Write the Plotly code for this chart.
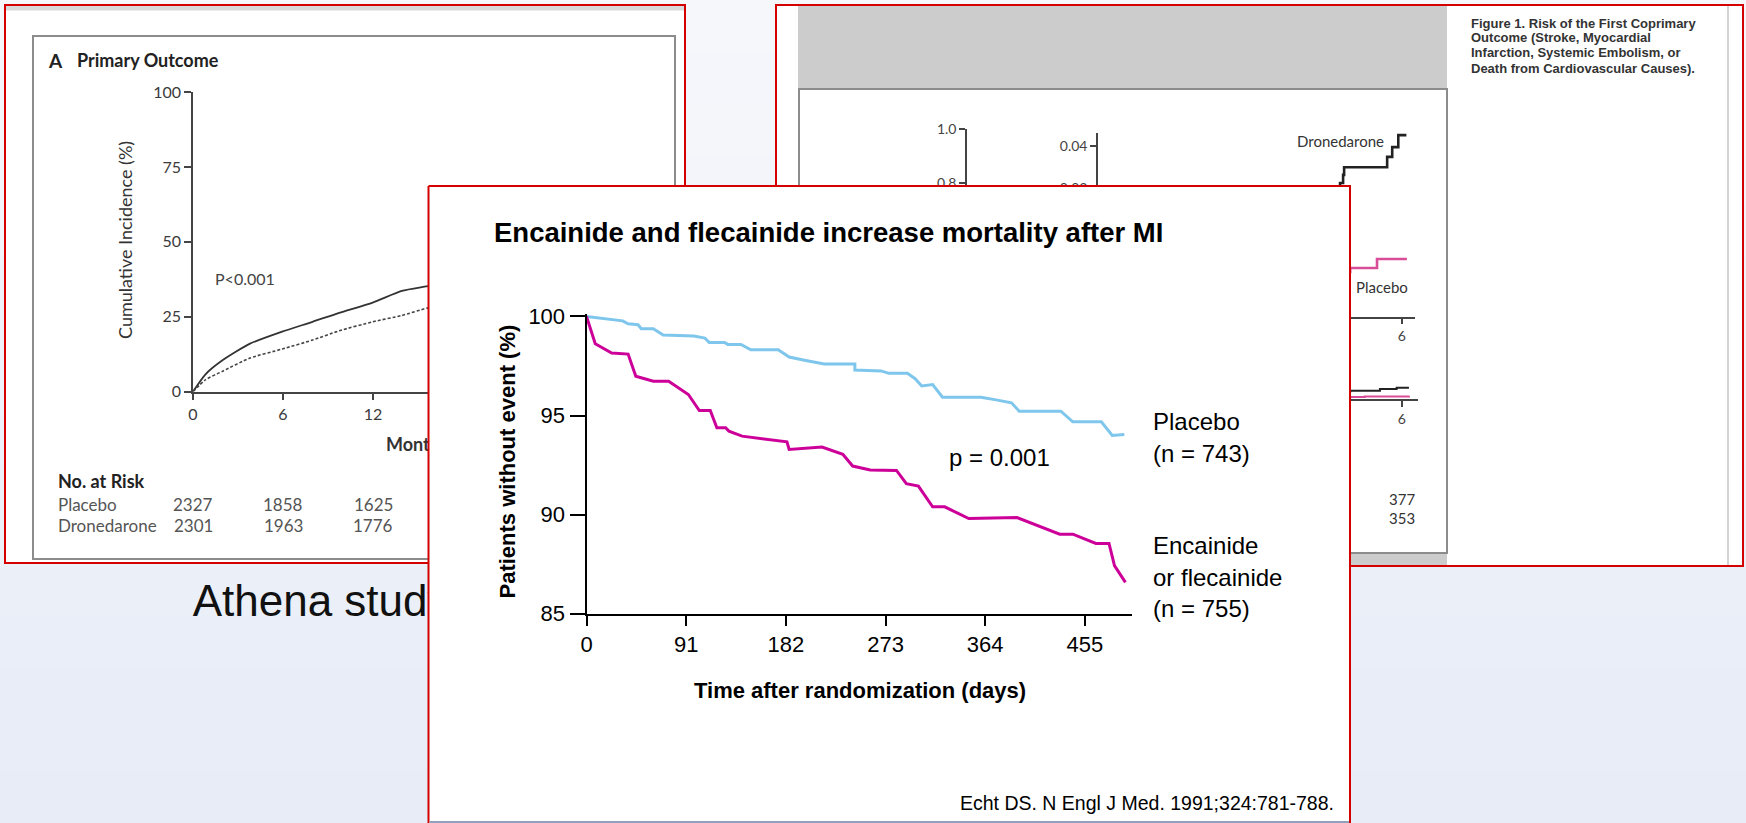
import plotly.graph_objects as go

W, H = 1746, 823

# ---------------- DATA ----------------
placebo_days = [0, 21, 33, 38, 47, 50, 61, 70, 98, 108, 112, 126, 129, 141, 150, 175, 185, 199, 217, 245,
                245, 269, 276, 293, 300, 306, 316, 325, 360, 374, 388, 395, 433, 444, 470, 480, 491]
placebo_pct = [100, 99.88, 99.78, 99.63, 99.58, 99.38, 99.38, 99.06, 99.01, 98.91, 98.69, 98.69, 98.59, 98.59,
               98.32, 98.32, 97.95, 97.79, 97.60, 97.60, 97.30, 97.25, 97.13, 97.13, 96.86, 96.49, 96.56, 95.92,
               95.92, 95.79, 95.64, 95.22, 95.22, 94.68, 94.68, 93.99, 94.04]
enc_days = [0, 8, 23, 38, 45, 61, 75, 87, 93, 103, 113, 119, 127, 130, 142, 183, 185, 215, 234, 243, 259, 283,
            292, 303, 316, 327, 349, 393, 432, 444, 465, 477, 482, 492]
enc_pct = [100, 98.62, 98.15, 98.10, 96.98, 96.73, 96.73, 96.26, 96.06, 95.25, 95.25, 94.38, 94.38, 94.21,
           93.96, 93.67, 93.29, 93.41, 93.04, 92.45, 92.25, 92.23, 91.56, 91.44, 90.39, 90.39, 89.80, 89.85,
           89.01, 89.01, 88.54, 88.54, 87.42, 86.58]
day_ticks = [0, 91, 182, 273, 364, 455]
pct_ticks = [85, 90, 95, 100]

months_left = [0, 0.82, 2.01, 3.8, 5.94, 7.97, 9.75, 11.98, 13.92, 15.56, 16.5]
placebo_left = [0, 5.7, 10.6, 16.0, 20.0, 23.3, 26.3, 29.7, 33.6, 35.1, 36.0]
dron_left = [0, 3.9, 6.9, 11.2, 14.2, 17.2, 20.3, 23.3, 25.4, 27.8, 28.6]
left_month_ticks = [0, 6, 12]
left_pct_ticks = [0, 25, 50, 75, 100]
risk_months = [0, 6, 12]
risk_placebo = [2327, 1858, 1625]
risk_dron = [2301, 1963, 1776]

inset_dron_m = [0, 2, 4.0, 4.68, 4.78, 4.84, 4.86, 5.71, 5.81, 5.93, 6.09]
inset_dron_v = [0, 0.015, 0.027, 0.0297, 0.0313, 0.0332, 0.0350, 0.0374, 0.0397, 0.0425, 0.0425]
inset_plac_m = [0, 2, 4.0, 4.98, 5.51, 6.10]
inset_plac_v = [0, 0.006, 0.0105, 0.0114, 0.0135, 0.0135]
main_dron_m = [0, 2, 4, 5.0, 5.29, 5.70, 5.93, 6.10]
main_dron_v = [0, 0.014, 0.024, 0.028, 0.0307, 0.037, 0.0419, 0.0419]
main_plac_m = [0, 2, 4, 5.0, 5.29, 5.49, 6.10]
main_plac_v = [0, 0.004, 0.005, 0.006, 0.0074, 0.0093, 0.0122]
right_main_yticks = [0.8, 1.0]
right_inset_yticks = [0.03, 0.04]
right_xticks = [6]
right_risk_m = 6
right_risk = [377, 353]

caption_lines = ["Figure 1. Risk of the First Coprimary",
                 "Outcome (Stroke, Myocardial",
                 "Infarction, Systemic Embolism, or",
                 "Death from Cardiovascular Causes)."]

# ---------------- STYLE ----------------
ARIAL = "Liberation Sans, Arial, sans-serif"
NEJM = "Lato, Open Sans, sans-serif"
RED = "#d40000"
BLUE = "#7fc6ec"
MAGENTA = "#cc0099"
PAGE_BG = "#eef1f8"


def dx(a, b):
    return [a / W, b / W]


def dy(top, bottom):
    return [1 - bottom / H, 1 - top / H]


def px(x):
    return x / W


def py(y):
    return 1 - y / H


def ann(text, x, y, size, family=ARIAL, color="black", xanchor="left", yanchor="middle",
        angle=0, xref="paper", xval=None):
    return dict(text=text, x=(xval if xval is not None else px(x)), y=py(y), xref=xref, yref="paper",
                showarrow=False, font=dict(size=size, family=family, color=color),
                xanchor=xanchor, yanchor=yanchor, textangle=angle)


fig = go.Figure()

fig.add_trace(go.Scatter(x=[192.7, 386], y=[605, 446], mode="text",
                         text=["Athena study", "<b>Months</b>"], textposition="middle right",
                         textfont=dict(size=[44, 18], family=[ARIAL, NEJM], color=["#111111", "#333333"]),
                         xaxis="x", yaxis="y", hoverinfo="skip", showlegend=False, cliponaxis=False))

fig.add_trace(go.Scatter(x=months_left, y=placebo_left, mode="lines", line=dict(color="#333333", width=1.8,
                         shape="spline", smoothing=0.6), xaxis="x2", yaxis="y2", showlegend=False))
fig.add_trace(go.Scatter(x=months_left, y=dron_left, mode="lines", line=dict(color="#444444", width=1.6,
                         dash="3px,2px", shape="spline", smoothing=0.6), xaxis="x2", yaxis="y2",
                         showlegend=False))

fig.add_trace(go.Scatter(x=main_dron_m, y=main_dron_v, mode="lines", line=dict(color="#222222", width=2, shape="hv"),
                         xaxis="x3", yaxis="y3", showlegend=False))
fig.add_trace(go.Scatter(x=main_plac_m, y=main_plac_v, mode="lines", line=dict(color="#d94c97", width=2, shape="hv"),
                         xaxis="x3", yaxis="y3", showlegend=False))
fig.add_trace(go.Scatter(x=inset_dron_m, y=inset_dron_v, mode="lines", line=dict(color="#222222", width=2.6, shape="hv"),
                         xaxis="x4", yaxis="y4", showlegend=False))
fig.add_trace(go.Scatter(x=inset_plac_m, y=inset_plac_v, mode="lines", line=dict(color="#d94c97", width=2.6, shape="hv"),
                         xaxis="x4", yaxis="y4", showlegend=False))

fig.add_trace(go.Scatter(x=[428.5, 1350, 1350, 428.5, 428.5], y=[186, 186, 840, 840, 186], mode="lines",
                         fill="toself", fillcolor="white", line=dict(color=RED, width=2),
                         xaxis="x5", yaxis="y5", hoverinfo="skip", showlegend=False))
fig.add_trace(go.Scatter(x=[429.5, 1349], y=[822, 822], mode="lines", line=dict(color="#8fa2bd", width=2),
                         xaxis="x5", yaxis="y5", hoverinfo="skip", showlegend=False))

fig.add_trace(go.Scatter(x=placebo_days, y=placebo_pct, mode="lines", line=dict(color=BLUE, width=3),
                         xaxis="x6", yaxis="y6", name="Placebo", showlegend=False))
fig.add_trace(go.Scatter(x=enc_days, y=enc_pct, mode="lines", line=dict(color=MAGENTA, width=3),
                         xaxis="x6", yaxis="y6", name="Encainide or flecainide", showlegend=False))

hidden = dict(visible=False, fixedrange=True)
lay = dict(
    width=W, height=H, autosize=False, margin=dict(l=0, r=0, t=0, b=0, pad=0, autoexpand=False),
    paper_bgcolor=PAGE_BG, plot_bgcolor="rgba(0,0,0,0)", showlegend=False,
    xaxis=dict(domain=[0, 1], range=[0, W], anchor="y", **hidden),
    yaxis=dict(domain=[0, 1], range=[H, 0], anchor="x", **hidden),
    xaxis5=dict(domain=[0, 1], range=[0, W], anchor="y5", **hidden),
    yaxis5=dict(domain=[0, 1], range=[H, 0], anchor="x5", **hidden),
)

nejm_tick = dict(family=NEJM, size=16, color="#3a3a3a")
lay["xaxis2"] = dict(domain=dx(193, 428.5), range=[0, 15.7], anchor="y2", showline=True, linecolor="#444",
                     linewidth=1.5, ticks="outside", ticklen=7, tickwidth=1.5, tickcolor="#444",
                     tickvals=left_month_ticks, tickfont=nejm_tick, showgrid=False, zeroline=False, fixedrange=True)
lay["yaxis2"] = dict(domain=dy(92, 391.6), range=[0, 100], anchor="x2", showline=True, linecolor="#444",
                     linewidth=1.5, ticks="outside", ticklen=7, tickwidth=1.5, tickcolor="#444",
                     tickvals=left_pct_ticks, tickfont=nejm_tick, showgrid=False, zeroline=False, fixedrange=True)

r_tick = dict(family=NEJM, size=14, color="#444444")
lay["xaxis3"] = dict(domain=dx(967, 1418), range=[0, 6.225], anchor="y3", showline=True, linecolor="#444",
                     linewidth=1.5, ticks="outside", ticklen=6, tickwidth=1.5, tickcolor="#444",
                     tickvals=right_xticks, tickfont=r_tick, showgrid=False, zeroline=False, fixedrange=True)
lay["yaxis3"] = dict(domain=dy(129, 399), range=[0, 1], anchor="x3", showline=True, linecolor="#444",
                     linewidth=1.5, ticks="outside", ticklen=6, tickwidth=1.5, tickcolor="#444",
                     tickvals=right_main_yticks, tickformat=".1f", tickfont=r_tick,
                     showgrid=False, zeroline=False, fixedrange=True)
lay["xaxis4"] = dict(domain=dx(1098, 1415), range=[0, 6.26], anchor="y4", showline=True, linecolor="#444",
                     linewidth=1.5, ticks="outside", ticklen=6, tickwidth=1.5, tickcolor="#444",
                     tickvals=right_xticks, tickfont=r_tick, showgrid=False, zeroline=False, fixedrange=True)
lay["yaxis4"] = dict(domain=dy(133, 316.7), range=[0, 0.043], anchor="x4", showline=True, linecolor="#444",
                     linewidth=1.5, ticks="outside", ticklen=6, tickwidth=1.5, tickcolor="#444",
                     tickvals=right_inset_yticks, tickformat=".2f", tickfont=r_tick,
                     showgrid=False, zeroline=False, fixedrange=True)

main_tick = dict(family=ARIAL, size=22, color="black")
lay["xaxis6"] = dict(domain=dx(586.5, 1132), range=[0, 498], anchor="y6", showline=True, linecolor="black",
                     linewidth=2, ticks="outside", ticklen=10, tickwidth=2, tickcolor="black",
                     tickvals=day_ticks, tickfont=main_tick, showgrid=False, zeroline=False, fixedrange=True)
lay["yaxis6"] = dict(domain=dy(313.5, 613.6), range=[85, 100.15], anchor="x6", showline=True, linecolor="black",
                     linewidth=2, ticks="outside", ticklen=15, tickwidth=2, tickcolor="black",
                     tickvals=pct_ticks, tickfont=main_tick, showgrid=False, zeroline=False, fixedrange=True)

shapes = []
top_c = (246, 247, 251)
bot_c = (231, 236, 247)
nb = 16
for i in range(nb):
    t = i / (nb - 1)
    c = tuple(round(top_c[k] + (bot_c[k] - top_c[k]) * t) for k in range(3))
    shapes.append(dict(type="rect", xref="paper", yref="paper", x0=0, x1=1, y0=py((i + 1) * H / nb + 1),
                       y1=py(i * H / nb), fillcolor="rgb(%d,%d,%d)" % c, line=dict(width=0), layer="below"))


def rect(x0, y0, x1, y1, fill=None, line_color=None, lw=0):
    return dict(type="rect", xref="paper", yref="paper", x0=px(x0), x1=px(x1), y0=py(y1), y1=py(y0),
                fillcolor=fill if fill else "rgba(0,0,0,0)",
                line=dict(color=line_color if line_color else "rgba(0,0,0,0)", width=lw), layer="below")


shapes.append(rect(5, 5, 685, 563, fill="white"))
shapes.append(rect(6, 6, 684, 10.5, fill="#d9d9d9"))
shapes.append(rect(33, 36, 675, 559, line_color="#8c8c8c", lw=2))
shapes.append(rect(5, 5, 685, 563, line_color=RED, lw=2))
shapes.append(rect(776, 5, 1743, 566, fill="white"))
shapes.append(rect(798, 6, 1447, 89, fill="#cccccc"))
shapes.append(rect(798, 553, 1447, 565, fill="#cccccc"))
shapes.append(rect(799, 89, 1447, 553, line_color="#8c8c8c", lw=2))
shapes.append(dict(type="line", xref="paper", yref="paper", x0=px(1728), x1=px(1728), y0=py(565), y1=py(6),
                   line=dict(color="#c4c4c4", width=1.5), layer="below"))
shapes.append(rect(776, 5, 1743, 566, line_color=RED, lw=2))
lay["shapes"] = shapes

annotations = []
annotations.append(ann("<b>Encainide and flecainide increase mortality after MI</b>", 492, 232, 27.5))
annotations.append(ann("p = 0.001", 947, 457, 24))
annotations.append(ann("Placebo", 1151, 421, 24))
annotations.append(ann("(n = 743)", 1151, 453, 24))
annotations.append(ann("Encainide", 1151, 545, 24))
annotations.append(ann("or flecainide", 1151, 577, 24))
annotations.append(ann("(n = 755)", 1151, 608, 24))
annotations.append(ann("<b>Patients without event (%)</b>", 506.5, 462, 22, xanchor="center", angle=-90))
annotations.append(ann("<b>Time after randomization (days)</b>", 860, 690, 22, xanchor="center"))
annotations.append(ann("Echt DS. N Engl J Med. 1991;324:781-788.", 1336, 803, 19.5, xanchor="right"))

annotations.append(ann("<b>A</b>", 46, 60, 19, family=NEJM, color="#222"))
annotations.append(ann("<b>Primary Outcome</b>", 75, 60, 18, family=NEJM, color="#222"))
annotations.append(ann("Cumulative Incidence (%)", 125, 240, 18, family=NEJM, color="#333",
                       xanchor="center", angle=-90))
annotations.append(ann("P&lt;0.001", 213, 278, 16, family=NEJM, color="#444"))
annotations.append(ann("<b>No. at Risk</b>", 56, 481, 18, family=NEJM, color="#222"))
annotations.append(ann("Placebo", 56, 504, 17, family=NEJM, color="#555"))
annotations.append(ann("Dronedarone", 56, 525, 17, family=NEJM, color="#555"))
for m, a, b in zip(risk_months, risk_placebo, risk_dron):
    annotations.append(ann(str(a), 0, 504, 17, family=NEJM, color="#555", xanchor="center", xref="x2", xval=m))
    annotations.append(ann(str(b), 0, 525, 17, family=NEJM, color="#555", xanchor="center", xref="x2", xval=m))

for i, line in enumerate(caption_lines):
    annotations.append(ann("<b>%s</b>" % line, 1469, 23 + 15 * i, 13, color="#333"))
annotations.append(ann("Dronedarone", 1295, 141, 15, family=NEJM, color="#333"))
annotations.append(ann("Placebo", 1354, 287, 15, family=NEJM, color="#333"))
for i, v in enumerate(right_risk):
    annotations.append(ann(str(v), 0, 499 + 19 * i, 15, family=NEJM, color="#333", xanchor="center",
                           xref="x3", xval=right_risk_m))
lay["annotations"] = annotations

fig.update_layout(**lay)

# remove the page's default 8px body margin so the figure sits at the window's top-left corner
css_fix = ("var de=document.documentElement,b=document.body;"
           "de.style.margin='0';de.style.padding='0';de.style.overflow='hidden';de.style.background='%s';"
           "b.style.margin='0';b.style.padding='0';b.style.overflow='hidden';b.style.background='%s';"
           "var g=document.getElementById('{plot_id}');"
           "if(g){g.style.position='fixed';g.style.left='0px';g.style.top='0px';}") % (PAGE_BG, PAGE_BG)
fig.write_html("out.html", config={"displayModeBar": False}, post_script=css_fix)
